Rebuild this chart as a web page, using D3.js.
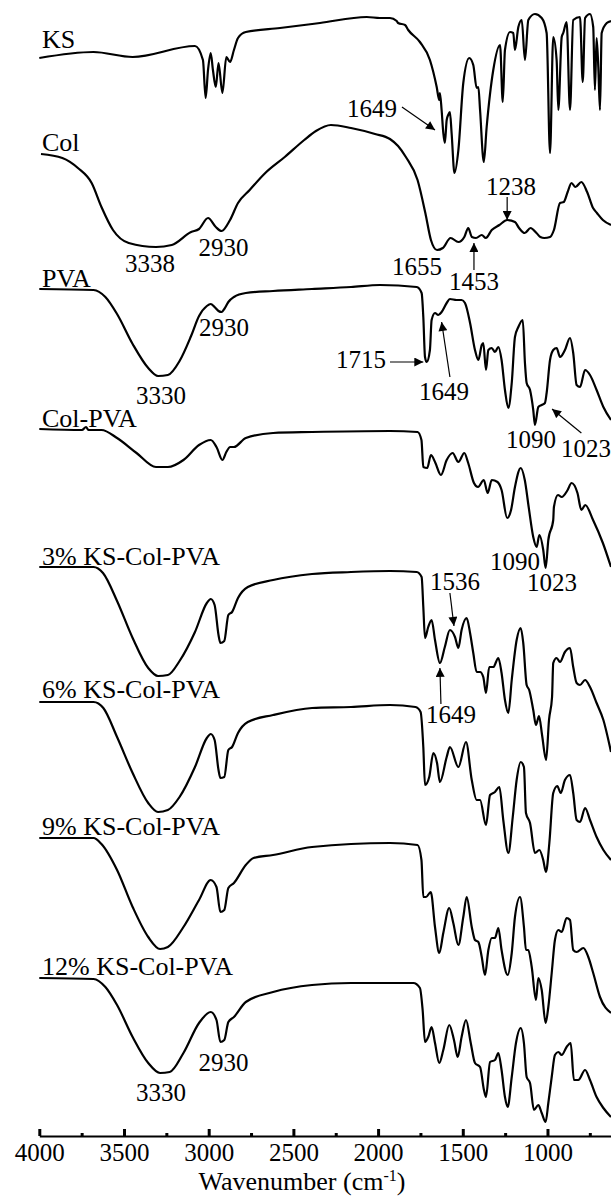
<!DOCTYPE html>
<html>
<head>
<meta charset="utf-8">
<script src="https://cdn.jsdelivr.net/npm/d3@7"></script>
<style>
body { margin: 0; background: #fff; }
svg { display: block; }
text { font-family: "Liberation Serif", "Times New Roman", serif; fill: #000; }
</style>
</head>
<body>
<div id="chart"></div>
<script>
// FTIR spectra, stacked. [wavenumber (cm-1), transmittance (a.u., offset)]
var ks = [[4000,107.8],[3680,108.4],[3449,107.9],[3081,109.0],[3034,107.6],[3018,103.8],[3004,106.6],[2988,108.3],[2975,106.6],[2958,104.9],[2942,107.3],[2919,104.3],[2896,107.9],[2874,107.4],[2851,108.6],[2827,109.8],[2781,110.4],[2579,110.8],[2343,111.3],[2067,111.9],[1989,111.8],[1930,111.8],[1890,111.5],[1882,111.3],[1841,111.1],[1822,110.6],[1753,109.4],[1694,107.6],[1654,104.9],[1639,103.6],[1635,104.3],[1625,102.6],[1615,100.3],[1606,99.3],[1595,101.6],[1586,102.1],[1576,102.4],[1566,100.3],[1549,96.3],[1526,98.6],[1497,105.3],[1462,107.8],[1438,107.1],[1418,104.8],[1408,104.9],[1398,102.6],[1376,97.4],[1359,100.9],[1320,106.6],[1280,109.1],[1264,103.4],[1251,108.6],[1221,110.4],[1202,110.3],[1192,108.6],[1172,110.9],[1152,111.6],[1133,107.6],[1113,111.6],[1074,112.2],[1034,111.8],[1005,110.3],[985,98.3],[966,109.9],[946,107.6],[936,102.6],[916,109.9],[907,110.3],[887,111.4],[867,102.6],[848,111.6],[808,111.9],[792,105.4],[778,111.8],[749,112.2],[730,110.9],[720,104.6],[710,109.8],[700,106.9],[690,102.6],[680,110.3],[650,111.3],[625,111.5]];

var col = [[3990,98.2],[3864,97.8],[3772,96.8],[3691,95.3],[3633,92.9],[3565,90.6],[3472,89.3],[3311,88.9],[3218,89.1],[3104,90.4],[3057,90.7],[3004,91.8],[2958,90.9],[2924,90.5],[2874,91.6],[2827,93.3],[2758,94.6],[2666,96.3],[2551,97.9],[2436,99.6],[2367,100.5],[2278,101.1],[2160,100.8],[2018,100.2],[1930,99.7],[1882,99.0],[1836,97.9],[1767,95.6],[1721,92.3],[1688,89.6],[1652,88.6],[1618,88.8],[1572,89.8],[1526,89.4],[1491,89.9],[1468,90.8],[1446,89.9],[1422,89.8],[1388,90.1],[1364,89.8],[1329,90.6],[1284,91.1],[1238,91.6],[1192,91.4],[1168,90.8],[1134,90.3],[1100,90.8],[1065,90.3],[1042,89.9],[1019,89.8],[985,89.9],[962,90.6],[926,93.3],[904,93.4],[881,94.4],[858,95.3],[835,94.9],[800,95.4],[766,94.4],[731,92.8],[708,92.3],[673,91.6],[625,91.1]];

var pva = [[4000,84.7],[3680,84.6],[3610,83.9],[3541,82.2],[3449,79.2],[3357,76.8],[3299,76.0],[3241,76.1],[3172,77.5],[3104,80.0],[3057,82.0],[3011,83.0],[2988,83.2],[2965,82.9],[2942,82.5],[2924,82.4],[2908,82.7],[2884,83.4],[2851,83.9],[2781,84.3],[2620,84.5],[2390,84.7],[2160,84.9],[1989,85.1],[1772,84.9],[1743,84.3],[1733,81.9],[1723,77.9],[1713,77.4],[1694,78.6],[1684,81.6],[1664,82.3],[1645,82.1],[1625,82.4],[1595,83.3],[1576,83.7],[1537,83.6],[1507,83.6],[1487,83.3],[1457,81.3],[1428,78.6],[1408,77.6],[1388,79.1],[1379,79.3],[1363,76.6],[1349,78.6],[1329,78.8],[1310,78.4],[1290,78.9],[1271,77.6],[1251,74.6],[1231,72.8],[1211,75.3],[1192,79.9],[1172,80.9],[1146,81.6],[1133,77.3],[1123,75.3],[1103,74.6],[1084,72.6],[1074,71.1],[1054,72.9],[1034,73.1],[1015,73.3],[1005,74.3],[985,77.6],[966,78.6],[946,78.8],[926,77.9],[897,78.6],[867,79.8],[848,78.3],[828,75.1],[808,74.9],[778,76.6],[749,76.1],[710,74.6],[670,72.9],[625,71.6]];

var colPva = [[4000,70.7],[3748,70.6],[3724,70.9],[3710,70.6],[3633,70.6],[3541,69.8],[3426,68.3],[3311,66.9],[3241,66.9],[3149,67.6],[3057,69.1],[2988,69.6],[2954,68.9],[2919,67.6],[2896,68.4],[2873,68.9],[2851,68.9],[2781,69.8],[2620,70.3],[2390,70.4],[1930,70.5],[1767,70.4],[1744,69.6],[1733,66.9],[1710,66.8],[1688,68.1],[1664,67.4],[1629,66.1],[1595,67.6],[1560,68.3],[1526,67.4],[1491,68.3],[1468,67.3],[1434,65.3],[1410,64.9],[1376,65.6],[1353,64.3],[1329,65.6],[1295,65.4],[1271,64.6],[1238,61.8],[1215,62.6],[1192,64.9],[1158,66.8],[1134,65.6],[1111,62.9],[1084,59.9],[1064,58.9],[1048,60.1],[1025,58.6],[1011,56.8],[995,59.6],[966,61.6],[962,62.9],[938,64.1],[916,63.9],[881,64.6],[858,65.3],[823,64.3],[800,62.6],[777,63.1],[731,61.6],[673,59.3],[625,56.9]];

var ks3 = [[4000,56.9],[3680,56.9],[3624,56.3],[3541,53.5],[3449,49.8],[3357,46.8],[3299,46.0],[3241,46.1],[3172,47.5],[3081,50.4],[3011,53.3],[2988,53.7],[2965,53.1],[2942,50.1],[2931,49.3],[2908,49.5],[2884,52.1],[2862,52.4],[2827,53.8],[2769,54.9],[2620,55.6],[2390,56.2],[2160,56.4],[1930,56.5],[1772,56.4],[1743,55.9],[1733,52.9],[1723,49.8],[1704,50.9],[1684,51.6],[1664,49.6],[1635,47.3],[1606,48.9],[1576,50.6],[1546,49.9],[1526,48.8],[1507,50.6],[1477,51.8],[1457,50.3],[1438,48.3],[1418,46.4],[1398,46.4],[1379,45.9],[1363,44.3],[1344,46.9],[1320,46.9],[1290,47.8],[1271,46.3],[1251,43.6],[1231,42.3],[1211,45.6],[1182,49.6],[1158,50.8],[1143,49.3],[1123,45.1],[1108,44.6],[1084,42.6],[1068,41.1],[1050,42.0],[1032,40.1],[1008,37.6],[991,41.6],[973,43.9],[966,47.3],[946,47.8],[926,47.4],[897,48.4],[867,48.8],[848,46.9],[828,45.3],[808,45.1],[778,45.6],[749,44.9],[710,43.3],[670,41.6],[625,38.4]];

var ks6 = [[4000,43.4],[3680,43.4],[3622,42.8],[3541,39.9],[3449,36.3],[3357,33.3],[3299,32.4],[3241,32.6],[3172,33.9],[3081,36.9],[3011,39.8],[2988,40.2],[2965,39.6],[2942,36.6],[2931,35.8],[2908,35.9],[2884,38.6],[2862,38.9],[2827,40.3],[2769,41.4],[2620,42.1],[2390,42.8],[2160,42.9],[1930,43.1],[1779,42.9],[1749,42.4],[1733,38.9],[1723,35.1],[1698,35.9],[1674,38.3],[1652,37.3],[1635,35.4],[1595,37.9],[1576,38.9],[1526,36.9],[1481,39.4],[1447,35.6],[1418,33.6],[1398,33.6],[1363,31.1],[1339,34.1],[1310,34.4],[1284,34.9],[1261,31.6],[1231,28.3],[1205,31.9],[1182,35.6],[1158,37.4],[1139,36.9],[1127,32.3],[1103,31.3],[1074,28.3],[1048,28.6],[1025,27.6],[1009,26.4],[989,29.3],[966,34.3],[942,35.0],[922,34.3],[897,35.6],[867,36.1],[848,34.3],[828,31.6],[808,31.4],[778,32.8],[749,31.6],[710,29.9],[670,28.6],[625,27.6]];

var ks9 = [[4000,29.8],[3680,29.8],[3633,29.2],[3541,26.6],[3449,22.9],[3357,19.9],[3287,18.7],[3241,18.9],[3149,20.9],[3057,23.6],[2988,25.6],[2954,24.9],[2931,22.4],[2908,22.6],[2884,24.8],[2851,25.3],[2781,27.1],[2735,27.8],[2620,28.1],[2390,28.9],[1930,29.3],[1767,29.1],[1744,27.6],[1733,23.9],[1717,23.9],[1689,24.4],[1664,20.9],[1639,18.3],[1615,20.3],[1580,22.8],[1556,21.3],[1526,19.1],[1497,21.9],[1477,23.9],[1447,20.9],[1428,19.6],[1408,19.4],[1388,17.9],[1369,16.1],[1349,18.6],[1329,19.8],[1310,19.8],[1290,20.8],[1271,18.6],[1235,16.1],[1211,18.3],[1192,21.9],[1162,23.9],[1139,20.9],[1127,18.6],[1113,18.6],[1093,16.9],[1068,13.6],[1054,15.8],[1034,14.6],[1011,11.3],[995,12.9],[975,16.3],[956,19.6],[936,20.6],[916,20.4],[887,21.8],[867,21.6],[848,18.6],[828,18.4],[788,18.8],[759,17.9],[730,16.3],[690,13.9],[625,12.3]];

var ks12 = [[4000,15.8],[3680,15.7],[3610,14.9],[3541,13.1],[3449,9.9],[3357,7.3],[3287,6.3],[3230,6.4],[3149,8.3],[3057,11.3],[2988,12.4],[2954,11.6],[2931,9.4],[2908,9.6],[2884,11.4],[2851,11.9],[2781,13.4],[2620,14.4],[2390,15.1],[2160,15.3],[1930,15.3],[1792,15.3],[1753,14.8],[1737,12.6],[1723,9.4],[1704,9.9],[1684,10.9],[1664,9.3],[1639,7.3],[1615,8.6],[1580,11.1],[1552,9.6],[1530,7.9],[1507,9.9],[1481,11.6],[1453,9.3],[1428,7.3],[1398,6.9],[1375,4.6],[1363,3.9],[1339,7.4],[1310,7.6],[1290,8.3],[1271,6.6],[1251,3.9],[1235,2.9],[1211,5.9],[1186,9.3],[1158,10.8],[1139,9.3],[1123,5.9],[1103,5.3],[1080,2.6],[1054,3.1],[1034,2.3],[1011,1.4],[995,3.3],[975,5.9],[956,8.1],[936,8.4],[916,8.1],[887,8.9],[863,9.3],[844,5.6],[818,5.6],[778,6.6],[749,5.6],[710,3.9],[670,2.8],[625,1.9]];

var spectra = [ks, col, pva, colPva, ks3, ks6, ks9, ks12];

// sample names, anchored at [wavenumber, T]
var sampleNames = ["KS", "Col", "PVA", "Col-PVA", "3% KS-Col-PVA", "6% KS-Col-PVA", "9% KS-Col-PVA", "12% KS-Col-PVA"];
var sampleAnchor = [[3984,108.8],[3984,98.5],[3984,84.9],[3984,70.9],[3984,57.1],[3984,43.8],[3984,30.1],[3984,16.1]];

// peak labels: [text, wavenumber, T, anchor]
var peakLabels = [
  ["1649", 2184, 101.9, "start"],
  ["3338", 3346, 86.4, "middle"],
  ["2930", 2913, 88.0, "middle"],
  ["1655", 1770, 86.1, "middle"],
  ["1453", 1434, 84.6, "middle"],
  ["1238", 1215, 94.1, "middle"],
  ["3330", 3282, 73.2, "middle"],
  ["2930", 2910, 80.0, "middle"],
  ["1715", 1953, 76.8, "end"],
  ["1649", 1611, 73.6, "middle"],
  ["1090", 1097, 68.8, "middle"],
  ["1023", 773, 67.9, "middle"],
  ["1090", 1192, 56.6, "middle"],
  ["1023", 973, 54.5, "middle"],
  ["1536", 1546, 54.6, "middle"],
  ["1649", 1570, 41.3, "middle"],
  ["3330", 3282, 3.5, "middle"],
  ["2930", 2913, 6.5, "middle"]
];

// arrows: [from wn, from T, to wn, to T]
var arrows = [
  [1859, 102.9, 1664, 100.6],
  [1434, 86.6, 1434, 89.3],
  [1238, 93.9, 1238, 91.6],
  [1930, 77.4, 1733, 77.4],
  [1576, 75.9, 1625, 81.4],
  [800, 70.3, 973, 72.7],
  [1576, 54.3, 1552, 51.0],
  [1629, 43.2, 1635, 46.8]
];

var majorTicks = [4000, 3500, 3000, 2500, 2000, 1500, 1000];
var minorTicks = [3750, 3250, 2750, 2250, 1750, 1250, 750];

var width = 611, height = 1198;
var svg = d3.select("#chart").append("svg")
  .attr("width", width)
  .attr("height", height);

var x = d3.scaleLinear().domain([4000, 625]).range([39.3, 611]);
var y = d3.scaleLinear().domain([0, 110]).range([1136, 36]);

svg.append("defs").append("marker")
  .attr("id", "head")
  .attr("markerUnits", "userSpaceOnUse")
  .attr("viewBox", "0 0 10 10")
  .attr("refX", 10).attr("refY", 5)
  .attr("markerWidth", 10).attr("markerHeight", 9)
  .attr("orient", "auto")
  .append("path")
  .attr("d", "M0,0L10,5L0,10Z")
  .attr("fill", "#000");

var line = d3.line()
  .x(function (d) { return x(d[0]); })
  .y(function (d) { return y(d[1]); })
  .curve(d3.curveMonotoneX);

svg.selectAll("path.spectrum")
  .data(spectra)
  .enter()
  .append("path")
  .attr("class", "spectrum")
  .attr("d", line)
  .attr("fill", "none")
  .attr("stroke", "#000")
  .attr("stroke-width", 2.2)
  .attr("stroke-linejoin", "round");

svg.selectAll("text.sample")
  .data(sampleNames)
  .enter()
  .append("text")
  .attr("class", "sample")
  .attr("x", function (d, i) { return x(sampleAnchor[i][0]); })
  .attr("y", function (d, i) { return y(sampleAnchor[i][1]); })
  .style("font-size", "26px")
  .text(function (d) { return d; });

svg.selectAll("text.peak")
  .data(peakLabels)
  .enter()
  .append("text")
  .attr("class", "peak")
  .attr("x", function (d) { return x(d[1]); })
  .attr("y", function (d) { return y(d[2]); })
  .attr("text-anchor", function (d) { return d[3]; })
  .style("font-size", "25px")
  .text(function (d) { return d[0]; });

svg.selectAll("line.arrow")
  .data(arrows)
  .enter()
  .append("line")
  .attr("class", "arrow")
  .attr("x1", function (d) { return x(d[0]); })
  .attr("y1", function (d) { return y(d[1]); })
  .attr("x2", function (d) { return x(d[2]); })
  .attr("y2", function (d) { return y(d[3]); })
  .attr("stroke", "#000")
  .attr("stroke-width", 1.2)
  .attr("marker-end", "url(#head)");

// x axis, ticks pointing up into the plot
var axisY = y(0);
var xAxis = d3.axisBottom(x)
  .tickValues(majorTicks)
  .tickSizeInner(-7)
  .tickSizeOuter(0)
  .tickPadding(7)
  .tickFormat(d3.format("d"));
var gx = svg.append("g")
  .attr("transform", "translate(0," + axisY + ")")
  .call(xAxis);
gx.select(".domain").attr("stroke-width", 2);
gx.selectAll(".tick line").attr("stroke-width", 3);
gx.selectAll(".tick text")
  .style("font-family", "'Liberation Serif', 'Times New Roman', serif")
  .style("font-size", "25px");

var gm = svg.append("g")
  .attr("transform", "translate(0," + axisY + ")")
  .call(d3.axisBottom(x).tickValues(minorTicks).tickSizeInner(-3).tickSizeOuter(0).tickFormat(""));
gm.select(".domain").remove();
gm.selectAll(".tick line").attr("stroke-width", 3);

var title = svg.append("text")
  .attr("x", 302)
  .attr("y", 1190)
  .attr("text-anchor", "middle")
  .style("font-size", "26px");
title.append("tspan").text("Wavenumber (cm");
title.append("tspan").attr("dy", -9).style("font-size", "16px").text("-1");
title.append("tspan").attr("dy", 9).text(")");
</script>
</body>
</html>
